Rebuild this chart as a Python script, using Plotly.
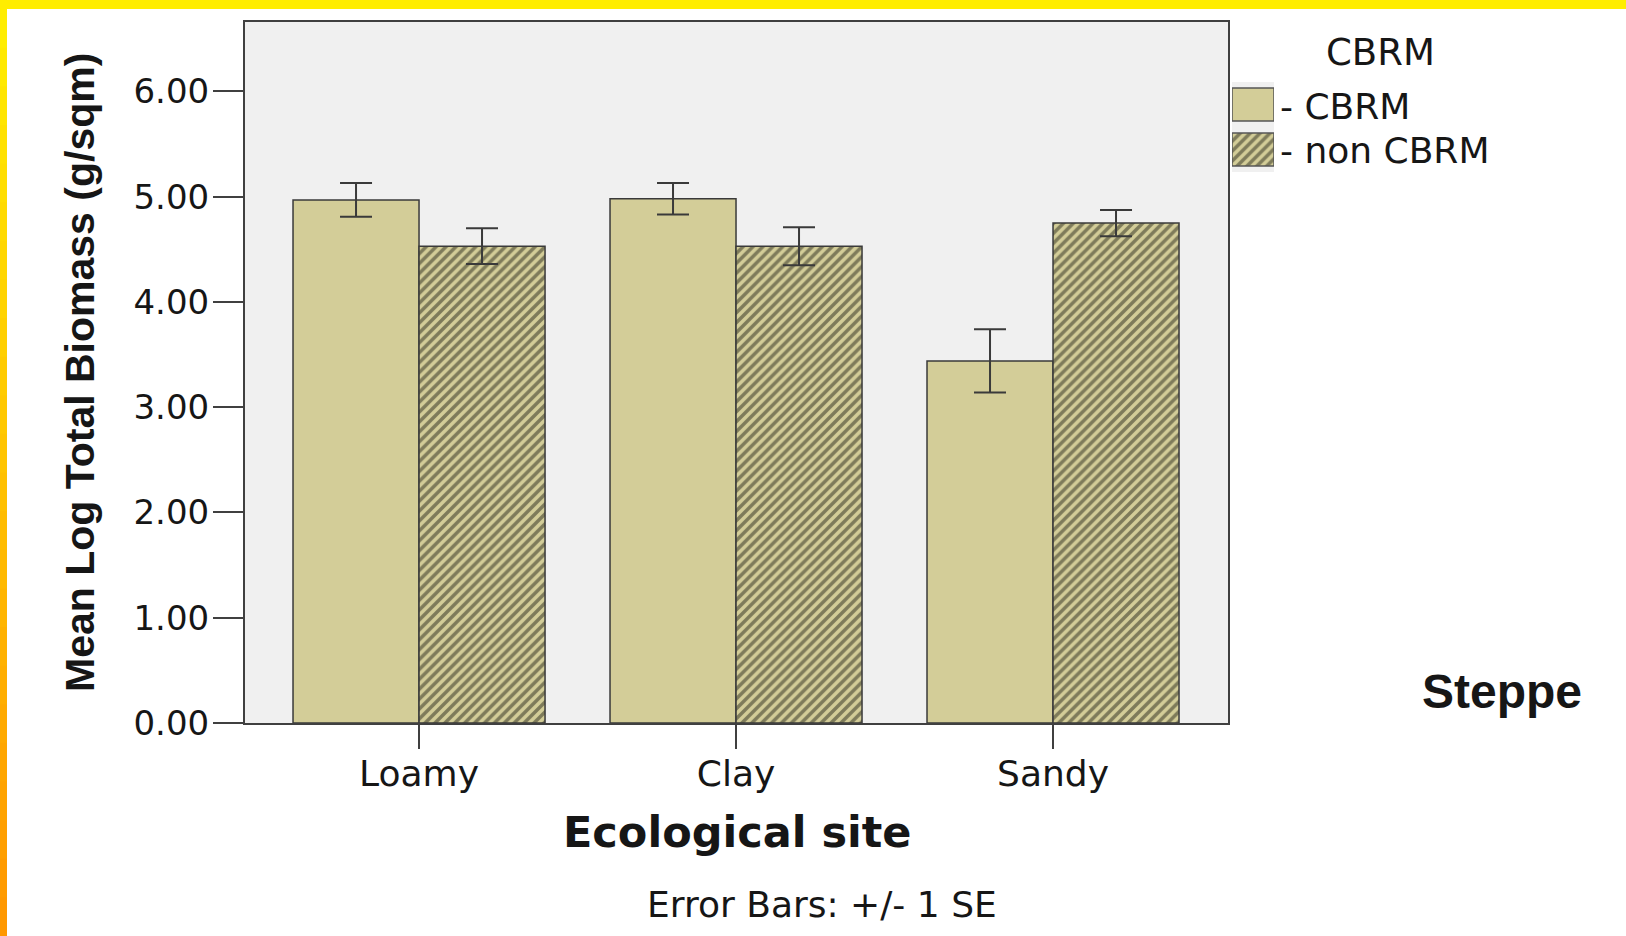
import plotly.graph_objects as go

# ── Data ─────────────────────────────────────────────────────────
sites     = ['Loamy', 'Clay', 'Sandy']
cbrm_mean = [4.97, 4.98, 3.44]
cbrm_se   = [0.16, 0.15, 0.30]
non_mean  = [4.53, 4.53, 4.75]
non_se    = [0.17, 0.18, 0.125]
y_ticks   = [0, 1, 2, 3, 4, 5, 6]
groups    = ['- CBRM', '- non CBRM']

# ── Geometry / style ─────────────────────────────────────────────
W, H = 1626, 936
L, R, T, B = 245, 1228, 22, 723          # plot area in pixels
TAN  = '#D3CD98'
EDGE = '#3a3a3a'
TXT  = '#161616'
SANS = 'DejaVu Sans'
ARIAL = 'Liberation Sans, Arial'
HATCH = dict(shape='/', fgcolor='#2a2a1c', size=7, solidity=0.5)


def px_x(x):
    return x / W


def px_y(y):
    return 1 - y / H


fig = go.Figure()
fig.add_trace(go.Bar(
    x=sites, y=cbrm_mean, name=groups[0],
    marker=dict(color=TAN, line=dict(color=EDGE, width=1.5)),
    error_y=dict(type='data', array=cbrm_se, color=EDGE, thickness=2, width=16),
))
fig.add_trace(go.Bar(
    x=sites, y=non_mean, name=groups[1],
    marker=dict(color=TAN, line=dict(color=EDGE, width=1.5), pattern=HATCH),
    error_y=dict(type='data', array=non_se, color=EDGE, thickness=2, width=16),
))

# ── Legend swatches (big SPSS-style boxes on a helper axis) ──────
fig.add_trace(go.Bar(
    y=[groups[0]], x=[1], orientation='h', width=0.73, offset=-0.365,
    marker=dict(color=TAN, line=dict(color='#555555', width=1.5)),
    xaxis='x2', yaxis='y2', showlegend=False, hoverinfo='skip',
))
fig.add_trace(go.Bar(
    y=[groups[1]], x=[1], orientation='h', width=0.73, offset=-0.365,
    marker=dict(color=TAN, line=dict(color='#555555', width=1.5), pattern=HATCH),
    xaxis='x2', yaxis='y2', showlegend=False, hoverinfo='skip',
))

# ── Frame stripes (yellow top, yellow→orange left) ───────────────
shapes = [dict(type='rect', xref='paper', yref='paper', layer='above',
               x0=0, x1=1, y0=px_y(0), y1=px_y(9),
               fillcolor='#FFED00', line=dict(width=0))]
n = 24
for i in range(n):
    f = i / (n - 1)
    g = int(0xED + (0x98 - 0xED) * f)
    y0 = 9 + (H - 9) * i / n
    y1 = min(H, 9 + (H - 9) * (i + 1) / n + 1)
    shapes.append(dict(type='rect', xref='paper', yref='paper', layer='above',
                       x0=0, x1=px_x(7), y0=px_y(y0), y1=px_y(y1),
                       fillcolor=f'rgb(255,{g},0)', line=dict(width=0)))


def note(text, x, y, size, family=SANS, anchor='center', **kw):
    return dict(text=text, x=px_x(x), y=px_y(y), xref='paper', yref='paper',
                showarrow=False, xanchor=anchor, yanchor='middle',
                font=dict(family=family, size=size, color=TXT), **kw)


annotations = [
    note('<b>Mean Log Total Biomass (g/sqm)</b>', 80, 373, 41, ARIAL, textangle=-90),
    note('<b>Ecological site</b>', 737, 832, 43),
    note('Error Bars: +/- 1 SE', 822, 904, 36),
    note('<b>Steppe</b>', 1502, 691, 48, ARIAL),
    note('CBRM', 1380, 52, 37),
    note(groups[0], 1278, 106, 36, anchor='left'),
    note(groups[1], 1278, 151, 36, anchor='left'),
]

axis_common = dict(
    showline=True, linecolor='#404040', linewidth=2, mirror=True,
    ticks='outside', tickwidth=2, tickcolor='#404040', showgrid=False,
    zeroline=False, automargin=False,
)

fig.update_layout(
    width=W, height=H, autosize=False,
    margin=dict(l=0, r=0, t=0, b=0, pad=0),
    paper_bgcolor='white',
    plot_bgcolor='#F0F0F0',
    barmode='group', bargap=0.205, bargroupgap=0,
    showlegend=False,
    xaxis=dict(type='category', range=[-0.549, 2.552], ticklen=24,
               ticklabelstandoff=-6,
               tickfont=dict(family=SANS, size=36, color=TXT),
               domain=[px_x(L), px_x(R)], **axis_common),
    yaxis=dict(range=[0, 6.66], tickvals=y_ticks, tickformat='.2f', ticklen=30,
               ticklabelstandoff=-3,
               tickfont=dict(family=SANS, size=34, color=TXT),
               domain=[px_y(B), px_y(T)], **axis_common),
    xaxis2=dict(domain=[px_x(1232), px_x(1274)], range=[0, 1], visible=False,
                anchor='y2', automargin=False),
    yaxis2=dict(domain=[px_y(172), px_y(82)], range=[1.5, -0.5], visible=False,
                type='category', anchor='x2', automargin=False),
    shapes=shapes,
    annotations=annotations,
)

fig.write_html('out.html',
               config={'responsive': False, 'displayModeBar': False},
               post_script="document.body.style.margin='0';")
